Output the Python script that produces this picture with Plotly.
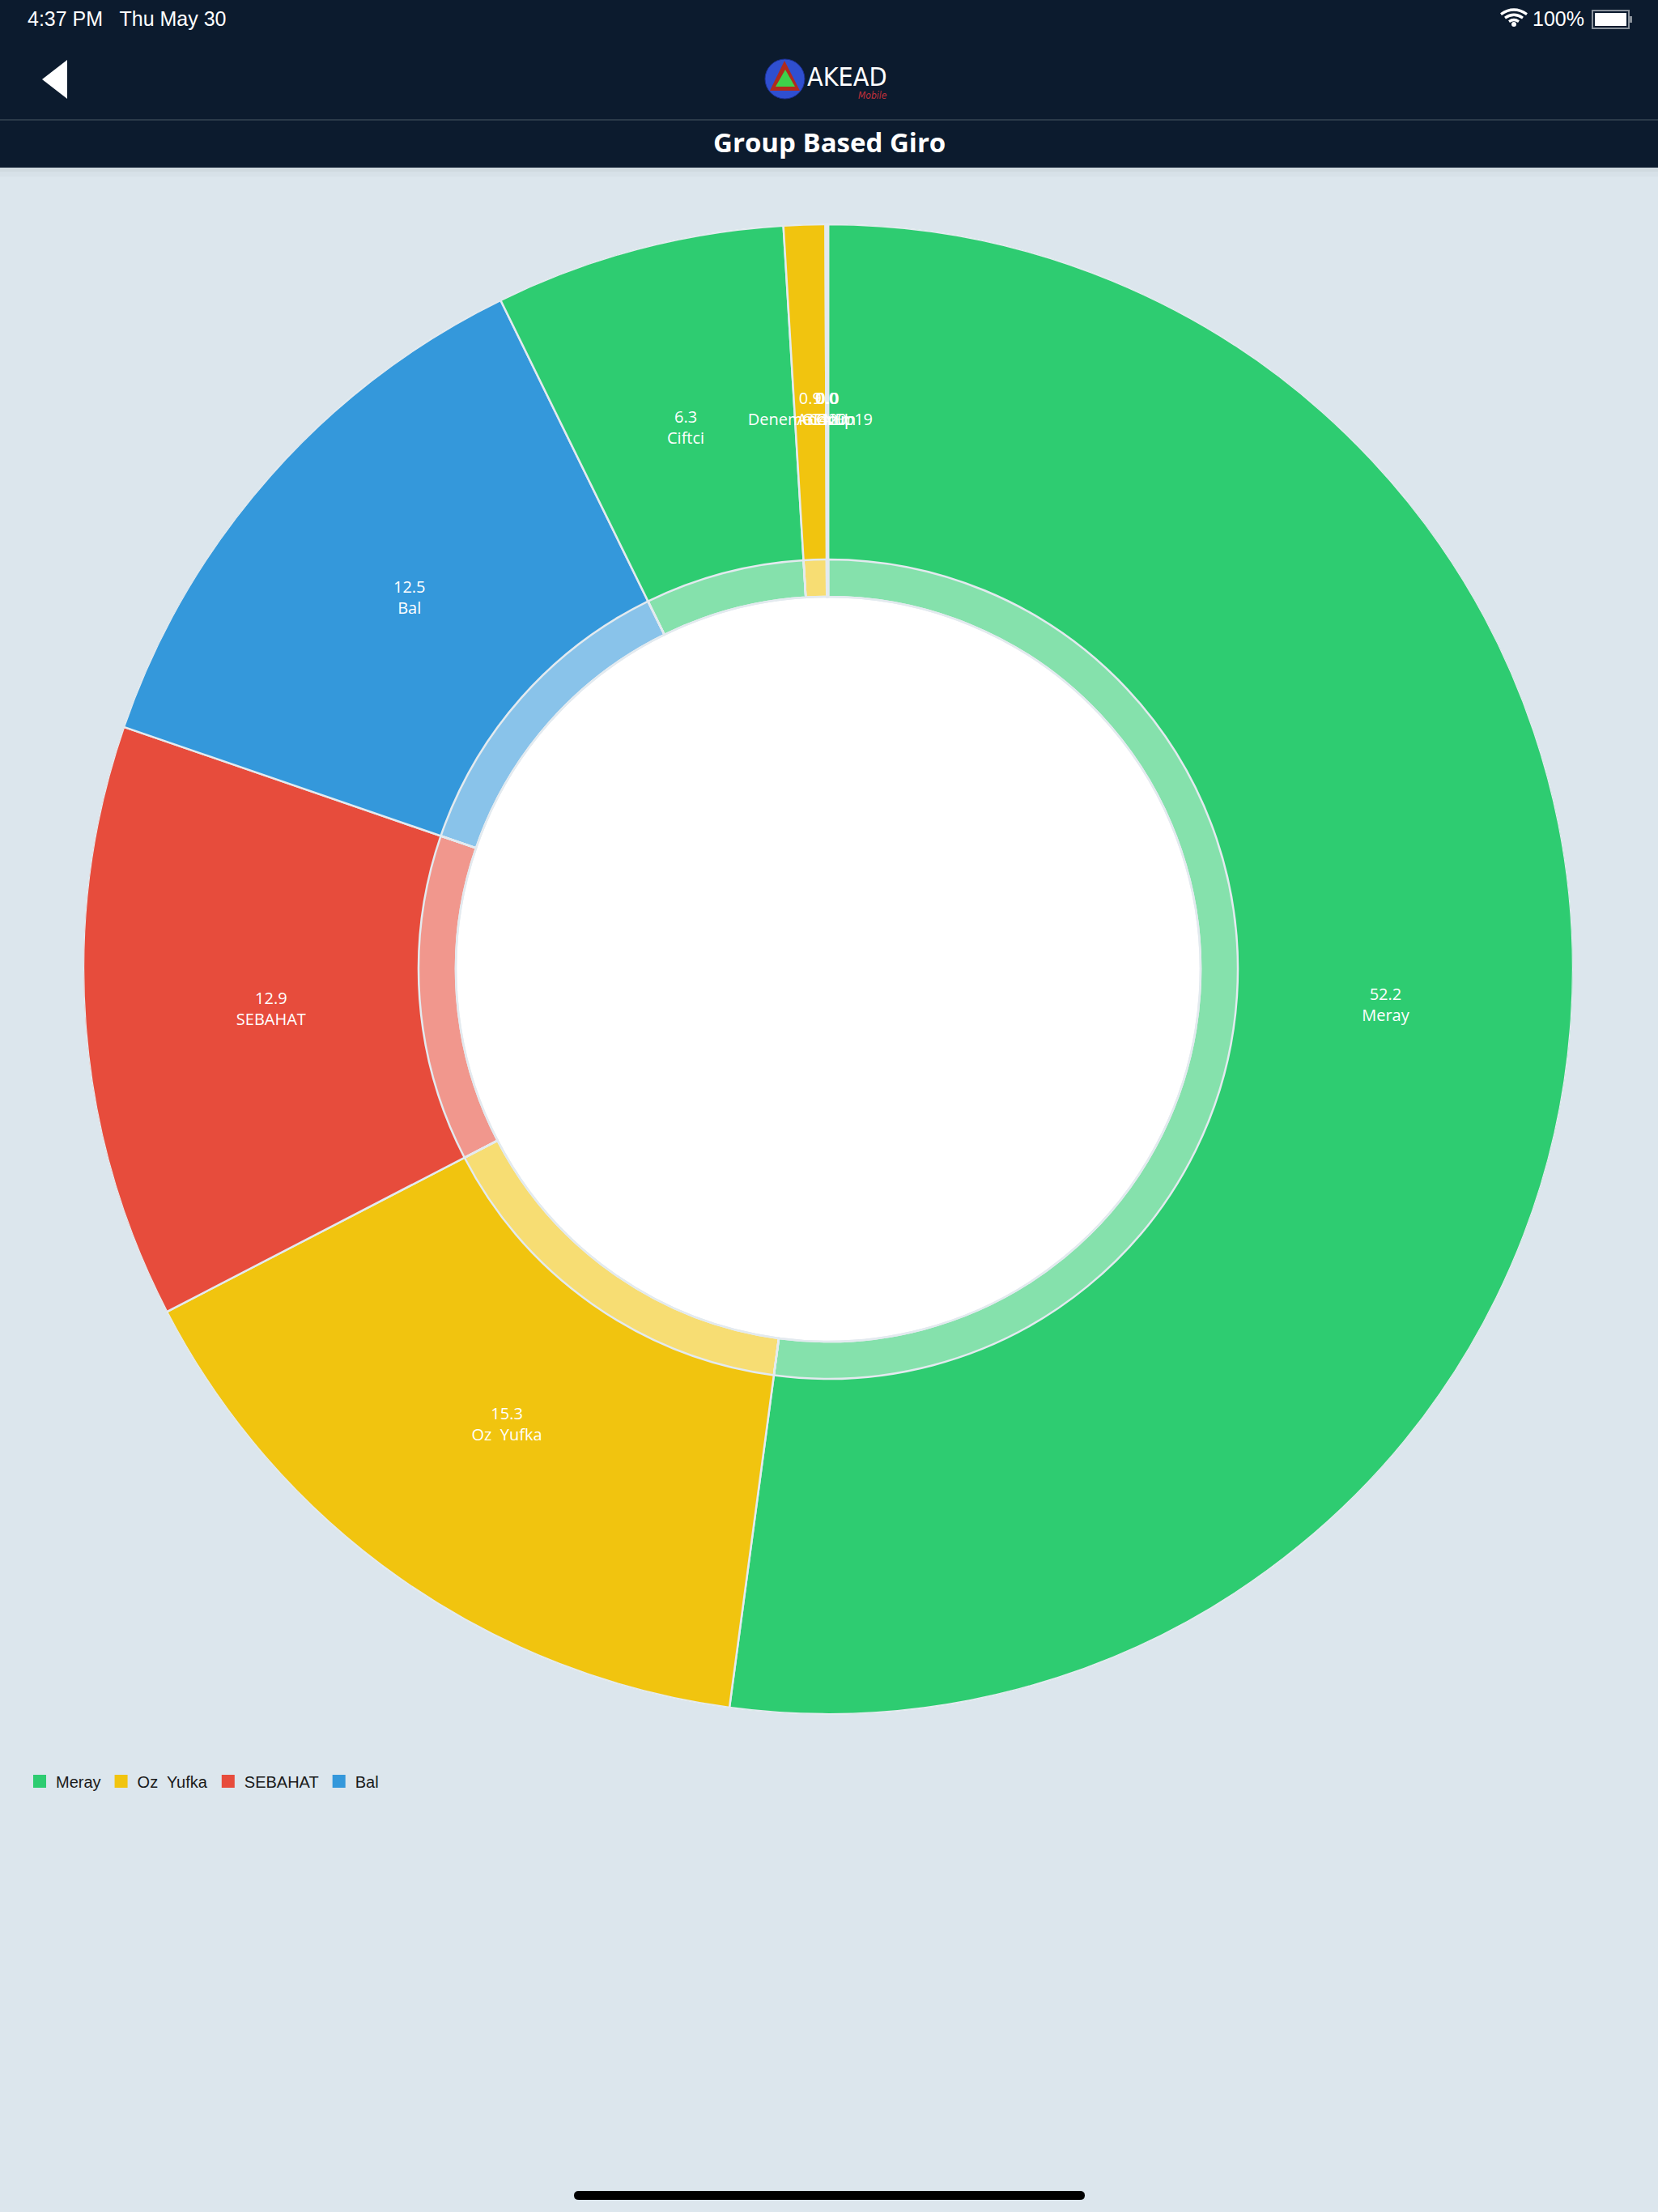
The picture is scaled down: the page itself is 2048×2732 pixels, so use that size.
import numpy as np
import plotly.graph_objects as go

W, H = 2048, 2732

# ---------------- data ----------------
labels = ["Meray", "Oz\u00a0 Yufka", "SEBAHAT", "Bal", "Ciftci",
          "Deneme Grup19", "Anonim", "GENEL", "C420"]
values = [52.2, 15.3, 12.9, 12.5, 6.3, 0.9, 0.02, 0.02, 0.02]
legend_labels = ["Meray", "Oz\u00a0 Yufka", "SEBAHAT", "Bal"]
palette = ["#2ecc71", "#f1c40f", "#e74c3c", "#3498db"]
title_text = "Group Based Giro"

slice_colors = [palette[i % len(palette)] for i in range(len(labels))]

# angular layout of the donut derived from the values
vals = np.array(values, dtype=float)
spans = vals / vals.sum() * 360.0
starts = np.concatenate([[0.0], np.cumsum(spans)[:-1]])
mids = starts + spans / 2
slice_text = [f"{v:.1f}<br>{l}" for v, l in zip(values, labels)]


def px(x):
    return x / W


def py(y):
    return 1 - y / H


# donut geometry (pixels) and radii (fractions of outer radius)
cx, cy, R = 1023, 1197, 920
hole_r, ring_r, label_r = 0.5, 0.55, 0.75
sep = dict(color="#e3eaef", width=2.5)

fig = go.Figure()

fig.add_trace(go.Barpolar(
    theta=mids, width=spans, r=[1 - hole_r] * len(values), base=hole_r,
    marker=dict(color=slice_colors, line=sep),
    showlegend=False, hoverinfo="skip",
))
fig.add_trace(go.Barpolar(
    theta=mids, width=spans, r=[ring_r - hole_r] * len(values), base=hole_r,
    marker=dict(color="rgba(255,255,255,0.42)", line=sep),
    showlegend=False, hoverinfo="skip",
))
fig.add_trace(go.Scatterpolar(
    theta=mids, r=[label_r] * len(values), mode="text", text=slice_text,
    textposition="middle center",
    textfont=dict(family="Open Sans", size=20, color="white"),
    showlegend=False, hoverinfo="skip",
))

# legend entries (only the first four categories)
for name, col in zip(legend_labels, palette):
    fig.add_trace(go.Scatter(
        x=[None], y=[None], mode="markers", name=name,
        marker=dict(symbol="square", size=16, color=col),
    ))

shapes = []
# header
shapes.append(dict(type="rect", xref="paper", yref="paper", x0=0, x1=1,
                   y0=py(207), y1=1, fillcolor="#0c1b2e", line=dict(width=0), layer="above"))
shapes.append(dict(type="rect", xref="paper", yref="paper", x0=0, x1=1,
                   y0=py(212), y1=py(207), fillcolor="rgba(0,0,0,0.05)", line=dict(width=0)))
shapes.append(dict(type="rect", xref="paper", yref="paper", x0=0, x1=1,
                   y0=py(218), y1=py(212), fillcolor="rgba(0,0,0,0.02)", line=dict(width=0)))
shapes.append(dict(type="line", xref="paper", yref="paper", x0=0, x1=1,
                   y0=py(148), y1=py(148), line=dict(color="#2b3a49", width=2), layer="above"))
# back arrow
shapes.append(dict(type="path", xref="paper", yref="paper",
                   path=f"M {px(52)} {py(98)} L {px(83)} {py(74)} L {px(83)} {py(122)} Z",
                   fillcolor="white", line=dict(width=0), layer="above"))
# logo
shapes.append(dict(type="circle", xref="paper", yref="paper",
                   x0=px(945), x1=px(994), y0=py(122), y1=py(73),
                   fillcolor="#2f4fd0", line=dict(color="#1c2f8f", width=1), layer="above"))
shapes.append(dict(type="path", xref="paper", yref="paper",
                   path=f"M {px(969)} {py(75)} L {px(988)} {py(112)} L {px(951)} {py(112)} Z",
                   fillcolor="#b02a1c", line=dict(width=0), layer="above"))
shapes.append(dict(type="path", xref="paper", yref="paper",
                   path=f"M {px(970)} {py(86)} L {px(982)} {py(107)} L {px(958)} {py(107)} Z",
                   fillcolor="#3ed14a", line=dict(width=0), layer="above"))
# battery
shapes.append(dict(type="rect", xref="paper", yref="paper",
                   x0=px(1967), x1=px(2012), y0=py(35), y1=py(13),
                   fillcolor="rgba(0,0,0,0)", line=dict(color="#8a929b", width=2), layer="above"))
shapes.append(dict(type="rect", xref="paper", yref="paper",
                   x0=px(1970), x1=px(2009), y0=py(32), y1=py(16),
                   fillcolor="white", line=dict(width=0), layer="above"))
shapes.append(dict(type="rect", xref="paper", yref="paper",
                   x0=px(2013), x1=px(2016), y0=py(28), y1=py(20),
                   fillcolor="#8a929b", line=dict(width=0), layer="above"))
# wifi
wx, wy = 1870, 32
for rr in (6, 11, 16):
    shapes.append(dict(type="path", xref="paper", yref="paper",
                       path=f"M {px(wx - rr)} {py(wy - rr * 0.9)} Q {px(wx)} {py(wy - rr * 1.6)} {px(wx + rr)} {py(wy - rr * 0.9)}",
                       line=dict(color="white", width=3.2), layer="above"))
shapes.append(dict(type="circle", xref="paper", yref="paper",
                   x0=px(wx - 3), x1=px(wx + 3), y0=py(wy + 1), y1=py(wy - 5),
                   fillcolor="white", line=dict(width=0), layer="above"))
# home indicator
x0h, x1h, yt, yb = 709, 1340, 2706, 2717
ym = (yt + yb) / 2
shapes.append(dict(type="path", xref="paper", yref="paper",
                   path=(f"M {px(x0h + 6)} {py(yt)} L {px(x1h - 6)} {py(yt)} "
                         f"Q {px(x1h)} {py(yt)} {px(x1h)} {py(ym)} Q {px(x1h)} {py(yb)} {px(x1h - 6)} {py(yb)} "
                         f"L {px(x0h + 6)} {py(yb)} Q {px(x0h)} {py(yb)} {px(x0h)} {py(ym)} "
                         f"Q {px(x0h)} {py(yt)} {px(x0h + 6)} {py(yt)} Z"),
                   fillcolor="black", line=dict(width=0)))

annotations = [
    dict(text="<b>" + title_text + "</b>", x=0.5, y=py(175), xref="paper", yref="paper",
         showarrow=False, xanchor="center", yanchor="middle",
         font=dict(family="Open Sans", size=33, color="white")),
    dict(text="4:37 PM\u00a0\u00a0 Thu May 30", x=px(32), y=py(23), xref="paper", yref="paper",
         showarrow=False, xanchor="left", yanchor="middle",
         font=dict(family="Liberation Sans", size=25, color="white")),
    dict(text="100%", x=px(1959), y=py(23), xref="paper", yref="paper",
         showarrow=False, xanchor="right", yanchor="middle",
         font=dict(family="Liberation Sans", size=25, color="white")),
    dict(text="AKEAD", x=px(995), y=py(95), xref="paper", yref="paper",
         showarrow=False, xanchor="left", yanchor="middle",
         font=dict(family="DejaVu Sans Condensed", size=32, color="white")),
    dict(text="<i>Mobile</i>", x=px(1098), y=py(118), xref="paper", yref="paper",
         showarrow=False, xanchor="right", yanchor="middle",
         font=dict(family="DejaVu Sans Condensed", size=12, color="#c0303a")),
]

hidden_axis = dict(visible=False, showgrid=False, showline=False, showticklabels=False, ticks="")

fig.update_layout(
    width=W, height=H,
    margin=dict(l=0, r=0, t=0, b=0),
    paper_bgcolor="#dce6ed", plot_bgcolor="rgba(0,0,0,0)",
    xaxis=dict(visible=False), yaxis=dict(visible=False),
    polar=dict(
        domain=dict(x=[px(cx - R), px(cx + R)], y=[py(cy + R), py(cy - R)]),
        bgcolor="white",
        radialaxis=dict(range=[0, 1], **hidden_axis),
        angularaxis=dict(rotation=90, direction="clockwise", **hidden_axis),
    ),
    legend=dict(orientation="h", x=px(29), y=py(2200), xanchor="left", yanchor="middle",
                font=dict(family="Liberation Sans", size=20, color="#1a1a1a"),
                bgcolor="rgba(0,0,0,0)", itemclick=False, itemdoubleclick=False),
    shapes=shapes, annotations=annotations,
)

fig.write_html("out.html", config={"displayModeBar": False})
